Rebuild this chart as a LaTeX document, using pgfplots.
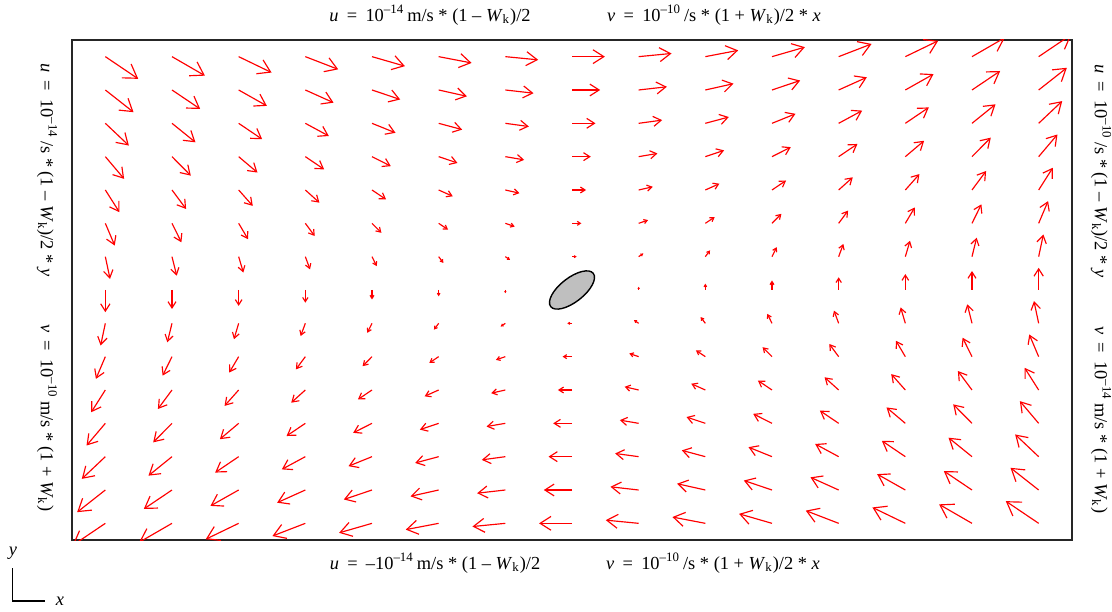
\documentclass[border=0pt]{standalone}
\usepackage{fontspec}
\setmainfont{Liberation Serif}
\usepackage{pgfplots}
\pgfplotsset{compat=1.18}
\usetikzlibrary{arrows.meta,shapes.geometric}
\newcommand{\lab}{\fontsize{9.2}{11}\selectfont}
\newcommand{\sep}{\hspace{0.45em}}
\begin{document}
\begin{tikzpicture}
\path[use as bounding box] (-36pt,-35.5pt) rectangle (520pt,270pt);
\begin{axis}[at={(0,0)}, anchor=south west, scale only axis,
  width=500pt, height=250pt,
  xmin=-7.5, xmax=7.5, ymin=-7.5, ymax=7.5,
  ticks=none, axis line style={line width=0.65pt, black!85},
  clip=true, point meta min=0, point meta max=40]
\addplot[red, line width=0.58pt,
  point meta={sqrt((\thisrow{u})^2+(\thisrow{v})^2)},
  quiver={u=\thisrow{u}/66.667, v=\thisrow{v}/33.333,
    every arrow/.append code={%
      \pgfmathsetmacro\hl{max(0.35,6.6*\pgfplotspointmetatransformed/1000)}%
      \pgfmathsetmacro\hw{max(0.35,8.4*\pgfplotspointmetatransformed/1000)}%
      \edef\mytip{\noexpand\tikzset{-{Straight Barb[length=\hl pt,width=\hw pt]}}}\mytip}}]
table[row sep=\\] {
x y u v\\
-7 7 32.9 -22.2\\ -6 7 32.9 -19.0\\ -5 7 32.9 -15.9\\ -4 7 32.9 -12.7\\ -3 7 32.9 -9.5\\ -2 7 32.9 -6.3\\ -1 7 32.9 -3.2\\ 0 7 32.9 0\\ 1 7 32.9 3.2\\ 2 7 32.9 6.3\\ 3 7 32.9 9.5\\ 4 7 32.9 12.7\\ 5 7 32.9 15.9\\ 6 7 32.9 19.0\\ 7 7 32.9 22.2\\
-7 6 28.2 -22.2\\ -6 6 28.2 -19.0\\ -5 6 28.2 -15.9\\ -4 6 28.2 -12.7\\ -3 6 28.2 -9.5\\ -2 6 28.2 -6.3\\ -1 6 28.2 -3.2\\ 0 6 28.2 0\\ 1 6 28.2 3.2\\ 2 6 28.2 6.3\\ 3 6 28.2 9.5\\ 4 6 28.2 12.7\\ 5 6 28.2 15.9\\ 6 6 28.2 19.0\\ 7 6 28.2 22.2\\
-7 5 23.5 -22.2\\ -6 5 23.5 -19.0\\ -5 5 23.5 -15.9\\ -4 5 23.5 -12.7\\ -3 5 23.5 -9.5\\ -2 5 23.5 -6.3\\ -1 5 23.5 -3.2\\ 0 5 23.5 0\\ 1 5 23.5 3.2\\ 2 5 23.5 6.3\\ 3 5 23.5 9.5\\ 4 5 23.5 12.7\\ 5 5 23.5 15.9\\ 6 5 23.5 19.0\\ 7 5 23.5 22.2\\
-7 4 18.8 -22.2\\ -6 4 18.8 -19.0\\ -5 4 18.8 -15.9\\ -4 4 18.8 -12.7\\ -3 4 18.8 -9.5\\ -2 4 18.8 -6.3\\ -1 4 18.8 -3.2\\ 0 4 18.8 0\\ 1 4 18.8 3.2\\ 2 4 18.8 6.3\\ 3 4 18.8 9.5\\ 4 4 18.8 12.7\\ 5 4 18.8 15.9\\ 6 4 18.8 19.0\\ 7 4 18.8 22.2\\
-7 3 14.1 -22.2\\ -6 3 14.1 -19.0\\ -5 3 14.1 -15.9\\ -4 3 14.1 -12.7\\ -3 3 14.1 -9.5\\ -2 3 14.1 -6.3\\ -1 3 14.1 -3.2\\ 0 3 14.1 0\\ 1 3 14.1 3.2\\ 2 3 14.1 6.3\\ 3 3 14.1 9.5\\ 4 3 14.1 12.7\\ 5 3 14.1 15.9\\ 6 3 14.1 19.0\\ 7 3 14.1 22.2\\
-7 2 9.4 -22.2\\ -6 2 9.4 -19.0\\ -5 2 9.4 -15.9\\ -4 2 9.4 -12.7\\ -3 2 9.4 -9.5\\ -2 2 9.4 -6.3\\ -1 2 9.4 -3.2\\ 0 2 9.4 0\\ 1 2 9.4 3.2\\ 2 2 9.4 6.3\\ 3 2 9.4 9.5\\ 4 2 9.4 12.7\\ 5 2 9.4 15.9\\ 6 2 9.4 19.0\\ 7 2 9.4 22.2\\
-7 1 4.7 -22.2\\ -6 1 4.7 -19.0\\ -5 1 4.7 -15.9\\ -4 1 4.7 -12.7\\ -3 1 4.7 -9.5\\ -2 1 4.7 -6.3\\ -1 1 4.7 -3.2\\ 0 1 4.7 0\\ 1 1 4.7 3.2\\ 2 1 4.7 6.3\\ 3 1 4.7 9.5\\ 4 1 4.7 12.7\\ 5 1 4.7 15.9\\ 6 1 4.7 19.0\\ 7 1 4.7 22.2\\
-7 0 0 -22.2\\ -6 0 0 -19.0\\ -5 0 0 -15.9\\ -4 0 0 -12.7\\ -3 0 0 -9.5\\ -2 0 0 -6.3\\ -1 0 0 -3.2\\ 1 0 0 3.2\\ 2 0 0 6.3\\ 3 0 0 9.5\\ 4 0 0 12.7\\ 5 0 0 15.9\\ 6 0 0 19.0\\ 7 0 0 22.2\\
-7 -1 -4.7 -22.2\\ -6 -1 -4.7 -19.0\\ -5 -1 -4.7 -15.9\\ -4 -1 -4.7 -12.7\\ -3 -1 -4.7 -9.5\\ -2 -1 -4.7 -6.3\\ -1 -1 -4.7 -3.2\\ 0 -1 -4.7 0\\ 1 -1 -4.7 3.2\\ 2 -1 -4.7 6.3\\ 3 -1 -4.7 9.5\\ 4 -1 -4.7 12.7\\ 5 -1 -4.7 15.9\\ 6 -1 -4.7 19.0\\ 7 -1 -4.7 22.2\\
-7 -2 -9.4 -22.2\\ -6 -2 -9.4 -19.0\\ -5 -2 -9.4 -15.9\\ -4 -2 -9.4 -12.7\\ -3 -2 -9.4 -9.5\\ -2 -2 -9.4 -6.3\\ -1 -2 -9.4 -3.2\\ 0 -2 -9.4 0\\ 1 -2 -9.4 3.2\\ 2 -2 -9.4 6.3\\ 3 -2 -9.4 9.5\\ 4 -2 -9.4 12.7\\ 5 -2 -9.4 15.9\\ 6 -2 -9.4 19.0\\ 7 -2 -9.4 22.2\\
-7 -3 -14.1 -22.2\\ -6 -3 -14.1 -19.0\\ -5 -3 -14.1 -15.9\\ -4 -3 -14.1 -12.7\\ -3 -3 -14.1 -9.5\\ -2 -3 -14.1 -6.3\\ -1 -3 -14.1 -3.2\\ 0 -3 -14.1 0\\ 1 -3 -14.1 3.2\\ 2 -3 -14.1 6.3\\ 3 -3 -14.1 9.5\\ 4 -3 -14.1 12.7\\ 5 -3 -14.1 15.9\\ 6 -3 -14.1 19.0\\ 7 -3 -14.1 22.2\\
-7 -4 -18.8 -22.2\\ -6 -4 -18.8 -19.0\\ -5 -4 -18.8 -15.9\\ -4 -4 -18.8 -12.7\\ -3 -4 -18.8 -9.5\\ -2 -4 -18.8 -6.3\\ -1 -4 -18.8 -3.2\\ 0 -4 -18.8 0\\ 1 -4 -18.8 3.2\\ 2 -4 -18.8 6.3\\ 3 -4 -18.8 9.5\\ 4 -4 -18.8 12.7\\ 5 -4 -18.8 15.9\\ 6 -4 -18.8 19.0\\ 7 -4 -18.8 22.2\\
-7 -5 -23.5 -22.2\\ -6 -5 -23.5 -19.0\\ -5 -5 -23.5 -15.9\\ -4 -5 -23.5 -12.7\\ -3 -5 -23.5 -9.5\\ -2 -5 -23.5 -6.3\\ -1 -5 -23.5 -3.2\\ 0 -5 -23.5 0\\ 1 -5 -23.5 3.2\\ 2 -5 -23.5 6.3\\ 3 -5 -23.5 9.5\\ 4 -5 -23.5 12.7\\ 5 -5 -23.5 15.9\\ 6 -5 -23.5 19.0\\ 7 -5 -23.5 22.2\\
-7 -6 -28.2 -22.2\\ -6 -6 -28.2 -19.0\\ -5 -6 -28.2 -15.9\\ -4 -6 -28.2 -12.7\\ -3 -6 -28.2 -9.5\\ -2 -6 -28.2 -6.3\\ -1 -6 -28.2 -3.2\\ 0 -6 -28.2 0\\ 1 -6 -28.2 3.2\\ 2 -6 -28.2 6.3\\ 3 -6 -28.2 9.5\\ 4 -6 -28.2 12.7\\ 5 -6 -28.2 15.9\\ 6 -6 -28.2 19.0\\ 7 -6 -28.2 22.2\\
-7 -7 -32.9 -22.2\\ -6 -7 -32.9 -19.0\\ -5 -7 -32.9 -15.9\\ -4 -7 -32.9 -12.7\\ -3 -7 -32.9 -9.5\\ -2 -7 -32.9 -6.3\\ -1 -7 -32.9 -3.2\\ 0 -7 -32.9 0\\ 1 -7 -32.9 3.2\\ 2 -7 -32.9 6.3\\ 3 -7 -32.9 9.5\\ 4 -7 -32.9 12.7\\ 5 -7 -32.9 15.9\\ 6 -7 -32.9 19.0\\ 7 -7 -32.9 22.2\\
};
\node[ellipse, draw=black, line width=0.7pt, fill=black!25, minimum width=27pt, minimum height=12pt, inner sep=0pt, rotate=38] at (axis cs:0,0) {};
\end{axis}
\node[font=\lab] at (179pt,262.5pt) {\textit{u}\sep=\sep10\textsuperscript{–14}\,m/s * (1 – \textit{W}\textsubscript{k})/2};
\node[font=\lab] at (321pt,262.5pt) {\textit{v}\sep=\sep10\textsuperscript{–10}\,/s * (1 + \textit{W}\textsubscript{k})/2 * \textit{x}};
\node[font=\lab] at (181.5pt,-11.5pt) {\textit{u}\sep=\sep–10\textsuperscript{–14}\,m/s * (1 – \textit{W}\textsubscript{k})/2};
\node[font=\lab] at (320.5pt,-11.5pt) {\textit{v}\sep=\sep10\textsuperscript{–10}\,/s * (1 + \textit{W}\textsubscript{k})/2 * \textit{x}};
\node[font=\lab, rotate=-90] at (-12.5pt,185pt) {\textit{u}\sep=\sep10\textsuperscript{–14}\,/s * (1 – \textit{W}\textsubscript{k})/2 * \textit{y}};
\node[font=\lab, rotate=-90] at (-12.5pt,61pt) {\textit{v}\sep=\sep10\textsuperscript{–10}\,m/s * (1 + \textit{W}\textsubscript{k})};
\node[font=\lab, rotate=-90] at (514.5pt,184.5pt) {\textit{u}\sep=\sep10\textsuperscript{–10}\,/s * (1 – \textit{W}\textsubscript{k})/2 * \textit{y}};
\node[font=\lab, rotate=-90] at (514.5pt,60pt) {\textit{v}\sep=\sep10\textsuperscript{–14}\,m/s * (1 + \textit{W}\textsubscript{k})};
\draw[line width=0.75pt] (-29.75pt,-14pt) -- (-29.75pt,-30.5pt) -- (-13.5pt,-30.5pt);
\node[font=\lab] at (-29.5pt,-6.5pt) {\textit{y}};
\node[font=\lab] at (-6pt,-30.5pt) {\textit{x}};
\end{tikzpicture}
\end{document}
